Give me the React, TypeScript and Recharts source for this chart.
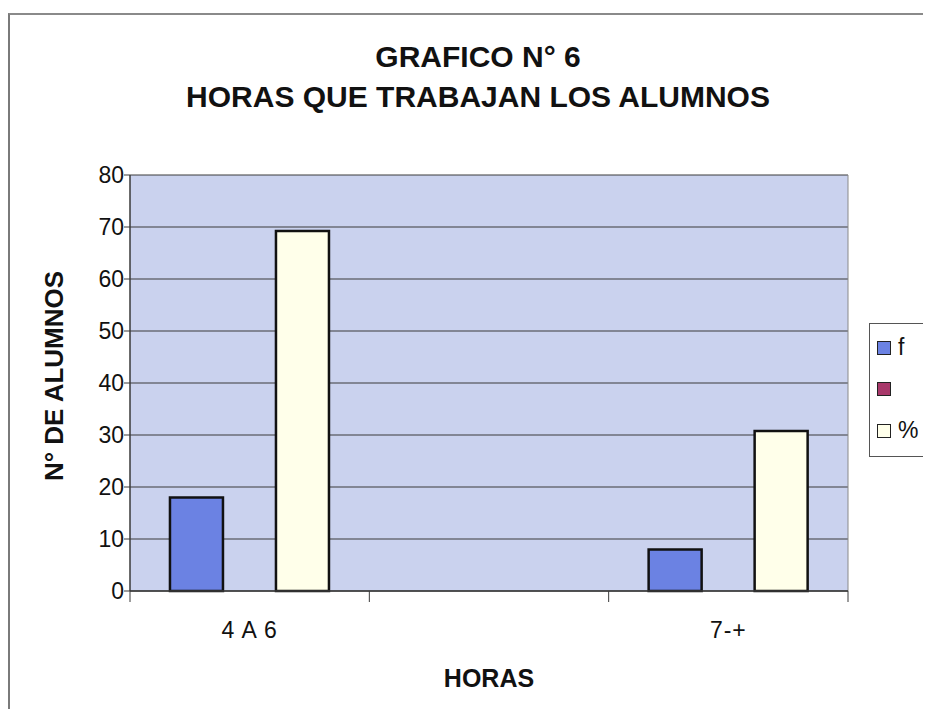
import { BarChart, Bar, XAxis, YAxis, CartesianGrid, Legend } from 'recharts';

const categories = ['4 A 6', '', '7-+'];
const fValues = [18, null, 8];
const blankValues = [0, null, 0];
const pctValues = [69.23, null, 30.77];
const yTicks = [0, 10, 20, 30, 40, 50, 60, 70, 80];
const seriesOrder = ['f', 'blank', 'pct'];

const FONT = '"Liberation Sans", Arial, sans-serif';
const INK = '#111111';
const BLUE = '#6B82E3';
const MAROON = '#A8386A';
const CREAM = '#FFFFEA';
const PLOT_BG = '#CAD2EE';
const GRID = '#3A3A3A';

const data = categories.map((c, i) => ({
  name: c,
  f: fValues[i],
  blank: blankValues[i],
  pct: pctValues[i],
}));

// category label in the band centre, tick marks on the band edges
const xTick = (props: any) => {
  const { x, y, payload, index } = props;
  const half = payload && payload.offset ? payload.offset : 718 / 6;
  const last = index === categories.length - 1;
  return (
    <g>
      <line x1={x - half} x2={x - half} y1={y} y2={y + 11} stroke={GRID} />
      {last && <line x1={x + half} x2={x + half} y1={y} y2={y + 11} stroke={GRID} />}
      <text
        x={x} y={y + 47} textAnchor="middle"
        fontFamily={FONT} fontSize={23} letterSpacing={1} fill={INK}
      >
        {payload.value}
      </text>
    </g>
  );
};

const yLabel = (props: any) => {
  const vb = props.viewBox || { y: 160, height: 416 };
  const cx = 44;
  const cy = vb.y + vb.height / 2 - 7;
  return (
    <text
      x={cx} y={cy}
      transform={`rotate(-90 ${cx} ${cy})`}
      textAnchor="middle" dominantBaseline="central"
      fontFamily={FONT} fontWeight="bold" fontSize={26} fill={INK}
    >
      N° DE ALUMNOS
    </text>
  );
};

const xLabel = (props: any) => {
  const vb = props.viewBox || { x: 120, width: 718 };
  return (
    <text
      x={vb.x + vb.width / 2} y={672}
      textAnchor="middle"
      fontFamily={FONT} fontWeight="bold" fontSize={25} fill={INK}
    >
      HORAS
    </text>
  );
};

const legendContent = (props: any) => {
  const items = [...(props.payload || [])].sort(
    (a: any, b: any) => seriesOrder.indexOf(a.dataKey) - seriesOrder.indexOf(b.dataKey)
  );
  return (
    <div style={{
      width: 90, height: 134, boxSizing: 'border-box',
      border: '1px solid #555', background: '#fff',
      paddingTop: 3, fontFamily: FONT,
    }}>
      {items.map((it: any, i: number) => (
        <div key={i} style={{ height: 41.5, display: 'flex', alignItems: 'center', paddingLeft: 7 }}>
          <span style={{
            width: 12, height: 12, background: it.color,
            border: '1.5px solid #222', display: 'inline-block',
          }} />
          <span style={{ marginLeft: 7, fontSize: 23, color: INK }}>{it.value}</span>
        </div>
      ))}
    </div>
  );
};

export default function App() {
  return (
    <div style={{
      position: 'relative', top: 5, width: 921, height: 699,
      borderTop: '2px solid #8a8a8a', borderLeft: '2px solid #7a7a7a',
      overflow: 'hidden', background: '#fff',
    }}>
      <div style={{
        position: 'absolute', left: 18, top: 22, width: 900, textAlign: 'center',
        fontFamily: FONT, fontWeight: 'bold', fontSize: 30, lineHeight: '40px',
        color: INK, zIndex: 2, whiteSpace: 'nowrap',
      }}>
        <div>GRAFICO N° 6</div>
        <div>HORAS QUE TRABAJAN LOS ALUMNOS</div>
      </div>
      <BarChart
        width={921}
        height={699}
        data={data}
        margin={{ top: 160, right: 83, left: 0, bottom: 0 }}
        barCategoryGap="16.7%"
        barGap={0}
      >
        <CartesianGrid fill={PLOT_BG} stroke={GRID} vertical={false} />
        <CartesianGrid stroke="#8a8a8a" horizontal={false} verticalPoints={[838]} fill="none" />
        <XAxis
          dataKey="name"
          interval={0}
          tickLine={false}
          tickSize={0}
          tickMargin={0}
          axisLine={{ stroke: GRID, strokeWidth: 1.5 }}
          tick={xTick}
          height={123}
          label={{ content: xLabel }}
        />
        <YAxis
          domain={[0, 80]}
          ticks={yTicks}
          interval={0}
          width={120}
          tickSize={6}
          tickMargin={0}
          tickLine={{ stroke: GRID }}
          axisLine={{ stroke: GRID, strokeWidth: 1.5 }}
          tick={{ fill: INK, fontFamily: FONT, fontSize: 23 }}
          label={{ content: yLabel }}
        />
        <Legend
          layout="vertical"
          align="center"
          verticalAlign="middle"
          content={legendContent}
          wrapperStyle={{ left: 859, top: 308, width: 90, height: 134 }}
        />
        <Bar dataKey="f" name="f" fill={BLUE} stroke="#111" strokeWidth={2.5} isAnimationActive={false} />
        <Bar dataKey="blank" name=" " fill={MAROON} stroke="#111" strokeWidth={2.5} isAnimationActive={false} />
        <Bar dataKey="pct" name="%" fill={CREAM} stroke="#111" strokeWidth={2.5} isAnimationActive={false} />
      </BarChart>
    </div>
  );
}
